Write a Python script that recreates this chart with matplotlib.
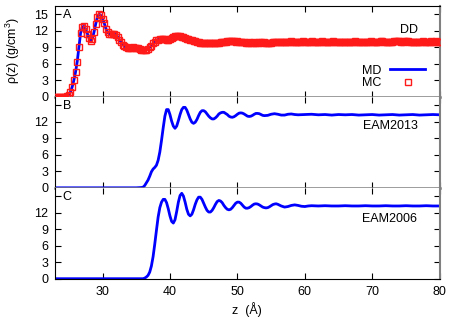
import numpy as np
import matplotlib
matplotlib.use("Agg")
import matplotlib.pyplot as plt

plt.rcParams['font.family'] = ['Liberation Sans', 'DejaVu Sans']
plt.rcParams['mathtext.fontset'] = 'custom'
plt.rcParams['mathtext.rm'] = 'Liberation Sans'

# panel A (DD): MC points on a 0.25 A grid, MD follows the same curve
z_dd = np.arange(23.0, 80.01, 0.25)
rho_dd_mc = [
    0.0, 0.0, 0.0, 0.0, 0.0, 0.0, 0.05, 0.1,
    0.3, 0.9, 1.8, 3.0, 4.5, 6.4, 9.0, 11.6,
    12.7, 12.8, 12.3, 11.5, 10.7, 10.2, 10.6, 11.8,
    13.3, 14.5, 15.0, 14.8, 14.2, 13.4, 12.4, 11.7,
    11.5, 11.4, 11.4, 11.5, 11.3, 10.9, 10.4, 9.9,
    9.5, 9.2, 9.0, 8.9, 8.9, 8.9, 9.0, 8.9,
    8.8, 8.8, 8.7, 8.6, 8.5, 8.5, 8.6, 8.7,
    9.0, 9.3, 9.7, 10.0, 10.3, 10.4, 10.5, 10.5,
    10.5, 10.5, 10.4, 10.4, 10.5, 10.7, 10.9, 11.0,
    11.0, 11.0, 11.0, 10.9, 10.8, 10.7, 10.6, 10.5,
    10.4, 10.3, 10.2, 10.1, 10.0, 9.9, 9.8, 9.8,
    9.7, 9.7, 9.7, 9.7, 9.7, 9.7, 9.7, 9.8,
    9.8, 9.8, 9.9, 9.9, 10.0, 10.0, 10.1, 10.1,
    10.1, 10.1, 10.1, 10.0,
    10.1, 10.0, 10.0, 9.9, 9.9, 9.8, 9.8, 9.9,
    9.8, 9.8, 9.9, 9.8, 9.8, 9.9, 9.9, 9.8,
    9.9, 9.8, 9.7, 9.7, 9.8, 9.9, 9.9, 9.9,
    10.0, 9.9, 9.9, 10.0, 10.0, 9.9, 10.0, 10.0,
    10.1, 10.0, 10.0, 10.0, 9.9, 10.0, 10.0, 10.1,
    10.0, 10.0, 9.9, 10.0, 10.1, 10.0, 10.0, 9.9,
    10.0, 10.0, 10.1, 10.0, 10.0, 9.9, 10.0, 10.0,
    10.0, 10.1, 10.0, 10.0, 9.9, 10.0, 10.0, 10.0,
    10.0, 10.0, 9.9, 10.0, 10.0, 10.0, 10.1, 10.0,
    10.0, 9.9, 10.0, 10.0, 10.0, 10.0, 10.0, 10.1,
    10.0, 10.0, 9.9, 10.0, 10.0, 10.1, 10.1, 10.0,
    10.0, 10.0, 10.0, 9.9, 10.0, 10.1, 10.2, 10.2,
    10.1, 10.0, 10.0, 10.1, 10.2, 10.1, 10.0, 9.9,
    9.9, 10.0, 10.0, 10.0, 10.0, 10.0, 10.1, 10.0,
    10.0, 10.0, 10.0, 10.1, 10.0, 10.0, 10.1, 10.0,
    10.0,
]
rho_dd_md = rho_dd_mc  # the two curves lie on top of each other

# panel B (EAM2013)
z_2013 = [23, 30, 35, 35.75, 36.0, 36.25, 36.5, 36.75, 37.0, 37.25, 37.5, 37.75,
          38.0, 38.25, 38.5, 38.75, 39.0, 39.25, 39.5, 39.75, 40.0, 40.25, 40.5, 40.75,
          41.0, 41.25, 41.5, 41.75, 42.0, 42.25, 42.5, 42.75, 43.0, 43.25, 43.5, 43.75,
          44.0, 44.25, 44.5, 44.75, 45.0, 45.25, 45.5, 45.75, 46.0, 46.25, 46.5, 46.75,
          47.0, 47.25, 47.5, 47.75, 48.0, 48.25, 48.5, 48.75, 49.0, 49.25, 49.5, 49.75,
          50.0, 50.25, 50.5, 50.75, 51.0, 51.25, 51.5, 51.75, 52.0, 52.25, 52.5, 52.75,
          53.0, 53.25, 53.5, 53.75, 54.0, 54.5, 55.0, 55.5, 56.0, 56.5, 57.0, 57.5,
          58.0, 58.5, 59.0, 60.0, 61.0, 62.0, 63.0, 64.0, 65.0, 66.0, 67.0, 68.0,
          69.0, 70.0, 71.0, 72.0, 73.0, 74.0, 75.0, 76.0, 77.0, 78.0, 79.0, 80.0]
rho_2013 = [0, 0, 0, 0.05, 0.1, 0.4, 0.9, 1.4, 2.1, 2.9, 3.4, 3.7,
            4.1, 5.0, 6.5, 8.6, 10.9, 13.0, 14.2, 14.2, 13.3, 12.1, 11.2, 10.8,
            11.2, 12.2, 13.3, 14.2, 14.6, 14.6, 14.1, 13.3, 12.5, 11.9, 11.7, 11.9,
            12.4, 13.1, 13.7, 14.0, 14.0, 13.8, 13.4, 13.0, 12.7, 12.5, 12.5, 12.7,
            13.0, 13.4, 13.6, 13.7, 13.7, 13.5, 13.3, 13.0, 12.85, 12.8, 12.9, 13.1,
            13.35, 13.55, 13.6, 13.55, 13.4, 13.2, 13.0, 12.95, 13.0, 13.15, 13.35, 13.5,
            13.5, 13.45, 13.3, 13.15, 13.1, 13.15, 13.35, 13.45, 13.35, 13.2, 13.2, 13.35,
            13.4, 13.3, 13.25, 13.3, 13.35, 13.25, 13.3, 13.2, 13.3, 13.25, 13.3, 13.2,
            13.25, 13.3, 13.2, 13.25, 13.3, 13.2, 13.25, 13.3, 13.2, 13.25, 13.3, 13.25]

# panel C (EAM2006)
z_2006 = [23, 30, 36.0, 36.25, 36.5, 36.75, 37.0, 37.25, 37.5, 37.75,
          38.0, 38.25, 38.5, 38.75, 39.0, 39.25, 39.5, 39.75, 40.0, 40.25, 40.5, 40.75,
          41.0, 41.25, 41.5, 41.75, 42.0, 42.25, 42.5, 42.75, 43.0, 43.25, 43.5, 43.75,
          44.0, 44.25, 44.5, 44.75, 45.0, 45.25, 45.5, 45.75, 46.0, 46.25, 46.5, 46.75,
          47.0, 47.25, 47.5, 47.75, 48.0, 48.25, 48.5, 48.75, 49.0, 49.25, 49.5, 49.75,
          50.0, 50.25, 50.5, 50.75, 51.0, 51.25, 51.5, 51.75, 52.0, 52.25, 52.5, 52.75,
          53.0, 53.25, 53.5, 53.75, 54.0, 54.25, 54.5, 54.75, 55.0, 55.25, 55.5, 55.75,
          56.0, 56.5, 57.0, 57.5, 58.0, 58.5, 59.0, 59.5, 60.0, 60.5, 61.0, 62.0,
          63.0, 64.0, 65.0, 66.0, 67.0, 68.0, 69.0, 70.0, 71.0, 72.0, 73.0, 74.0,
          75.0, 76.0, 77.0, 78.0, 79.0, 80.0]
rho_2006 = [0, 0, 0, 0.1, 0.3, 0.6, 1.2, 2.3, 4.0, 6.3,
            8.8, 11.2, 12.9, 13.9, 14.4, 14.4, 13.8, 12.7, 11.4, 10.4, 10.1, 10.7,
            12.2, 13.9, 15.1, 15.5, 15.0, 13.9, 12.6, 11.7, 11.4, 11.7, 12.5, 13.5,
            14.3, 14.8, 14.8, 14.4, 13.7, 13.0, 12.4, 12.1, 12.1, 12.4, 12.9, 13.5,
            14.0, 14.2, 14.1, 13.8, 13.3, 12.9, 12.6, 12.5, 12.6, 12.9, 13.3, 13.7,
            13.9, 13.9, 13.7, 13.35, 13.0, 12.8, 12.8, 12.9, 13.1, 13.35, 13.55, 13.6,
            13.55, 13.4, 13.2, 13.0, 12.9, 12.85, 12.9, 13.05, 13.25, 13.45, 13.55, 13.6,
            13.5, 13.2, 13.0, 13.1, 13.3, 13.4, 13.3, 13.15, 13.1, 13.2, 13.25, 13.2,
            13.25, 13.2, 13.2, 13.25, 13.2, 13.2, 13.25, 13.2, 13.2, 13.25, 13.2, 13.2,
            13.25, 13.2, 13.2, 13.25, 13.2, 13.2]

blue = '#0000ff'
red = '#ff1a1a'
gray = '#808080'

fig = plt.figure(figsize=(4.63, 3.24), dpi=100)
left, right = 55.3 / 463, 439.7 / 463
top, bottom = 1 - 6 / 324, 1 - 278.7 / 324
h = (top - bottom) / 3

axes = []
for i in range(3):
    ax = fig.add_axes([left, top - (i + 1) * h, right - left, h])
    axes.append(ax)

axA, axB, axC = axes

axA.plot(z_dd, rho_dd_md, color=blue, lw=2.0, label='MD', zorder=2)
axA.plot(z_dd, rho_dd_mc, ls='none', marker='s', ms=3.8, mfc='none',
         mec=red, mew=1.0, label='MC', zorder=3)
axB.plot(z_2013, rho_2013, color=blue, lw=2.0)
axC.plot(z_2006, rho_2006, color=blue, lw=2.0)

for i, ax in enumerate(axes):
    ax.set_xlim(23, 80)
    ax.set_ylim(0, 16.5)
    ax.set_xticks([30, 40, 50, 60, 70, 80])
    ax.set_yticks([0, 3, 6, 9, 12, 15])
    if i == 0:
        ax.set_yticklabels(['0', '3', '6', '9', '12', '15'])
    else:
        ax.set_yticklabels(['0', '3', '6', '9', '12', ''])
    if i < 2:
        ax.set_xticklabels([])
    ax.tick_params(direction='in', top=True, right=True, length=4, width=0.8,
                   labelsize=9, pad=5)
    ax.spines['left'].set_color('black')
    ax.spines['right'].set_color(gray)
    ax.spines['right'].set_linewidth(1.5)
    if i > 0:
        ax.spines['top'].set_visible(False)
    if i < 2:
        ax.spines['bottom'].set_color(gray)
        ax.spines['bottom'].set_linewidth(1.8)

for ax, letter in zip(axes, ['A', 'B', 'C']):
    ax.text(0.03, 0.9, letter, transform=ax.transAxes, ha='center', va='center', fontsize=9)

axA.text(0.944, 0.74, 'DD', transform=axA.transAxes, ha='right', va='center', fontsize=9)
axB.text(0.942, 0.685, 'EAM2013', transform=axB.transAxes, ha='right', va='center', fontsize=9)
axC.text(0.942, 0.653, 'EAM2006', transform=axC.transAxes, ha='right', va='center', fontsize=9)

axA.legend(loc='center right', bbox_to_anchor=(0.962, 0.22), frameon=False,
           markerfirst=False, fontsize=9, handlelength=2.8, handletextpad=0.7,
           labelspacing=0.05, borderpad=0, borderaxespad=0)

fig.text(12.7 / 463, 1 - 50.7 / 324, r'ρ(z) (g/cm$^3$)', rotation=90,
         ha='center', va='center', fontsize=9)
fig.text(247 / 463, 1 - 310 / 324, 'z  (Å)', ha='center', va='center', fontsize=9)

fig.savefig('out.png', dpi=100)
